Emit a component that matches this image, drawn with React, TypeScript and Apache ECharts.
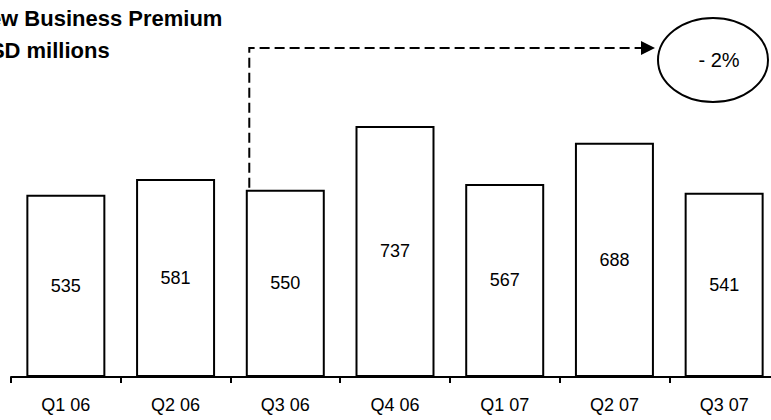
import React, { useEffect, useRef } from "react";
import * as echarts from "echarts";

const quarters = ["Q1 06", "Q2 06", "Q3 06", "Q4 06", "Q1 07", "Q2 07", "Q3 07"];
const premiums = [535, 581, 550, 737, 567, 688, 541];
const titleLines = ["New Business Premium", "USD millions"];
const changeLabel = "- 2%";

const FONT = "Arial, 'Liberation Sans', Helvetica, sans-serif";

export default function App() {
  const ref = useRef<HTMLDivElement>(null);

  useEffect(() => {
    if (!ref.current) return;
    const chart = echarts.init(ref.current, undefined, { renderer: "svg" });

    chart.setOption({
      animation: false,
      backgroundColor: "#ffffff",
      grid: {
        left: 11,
        width: 768,
        top: 36.4,
        bottom: 43,
        containLabel: false,
        outerBoundsMode: "none",
      },
      xAxis: {
        type: "category",
        data: quarters,
        axisLine: { lineStyle: { color: "#000", width: 2 } },
        axisTick: { show: true, length: 6, lineStyle: { color: "#000", width: 2 } },
        axisLabel: { color: "#000", fontSize: 18, fontFamily: FONT, margin: 19 },
      },
      yAxis: {
        type: "value",
        min: 0,
        max: 1000,
        show: false,
        splitLine: { show: false },
      },
      series: [
        {
          type: "bar",
          data: premiums,
          barWidth: "72%",
          itemStyle: { color: "#ffffff", borderColor: "#000", borderWidth: 2 },
          label: {
            show: true,
            position: "inside",
            color: "#000",
            fontSize: 18,
            fontFamily: FONT,
          },
        },
      ],
    });

    // Dashed connector rising from the Q3 06 bar to the change bubble
    const q3 = chart.convertToPixel({ seriesIndex: 0 }, [2, premiums[2]]) as number[];
    const lineX = q3[0] - 36;
    const lineTop = 48;
    const tipX = 655;

    chart.setOption({
      graphic: [
        {
          type: "text",
          x: -27,
          y: 18,
          style: {
            text: titleLines[0],
            fontSize: 22,
            fontWeight: "bold",
            fontFamily: FONT,
            fill: "#000",
            verticalAlign: "middle",
          },
        },
        {
          type: "text",
          x: -26,
          y: 50,
          style: {
            text: titleLines[1],
            fontSize: 22,
            fontWeight: "bold",
            fontFamily: FONT,
            fill: "#000",
            verticalAlign: "middle",
          },
        },
        {
          type: "polyline",
          shape: {
            points: [
              [lineX, q3[1] - 2],
              [lineX, lineTop],
              [tipX - 14, lineTop],
            ],
          },
          style: { stroke: "#000", lineWidth: 2, lineDash: [10, 5], fill: null },
        },
        {
          type: "polygon",
          shape: {
            points: [
              [tipX - 14, lineTop - 7],
              [tipX, lineTop],
              [tipX - 14, lineTop + 7],
            ],
          },
          style: { fill: "#000" },
        },
        {
          type: "ellipse",
          shape: { cx: 713, cy: 60, rx: 55, ry: 42 },
          style: { fill: "#fff", stroke: "#000", lineWidth: 2 },
        },
        {
          type: "text",
          x: 719,
          y: 60,
          style: {
            text: changeLabel,
            fontSize: 20,
            fontFamily: FONT,
            fill: "#000",
            align: "center",
            verticalAlign: "middle",
          },
        },
      ],
    });

    return () => chart.dispose();
  }, []);

  return (
    <div
      ref={ref}
      style={{ position: "absolute", left: 0, top: 0, width: 771, height: 420 }}
    />
  );
}
